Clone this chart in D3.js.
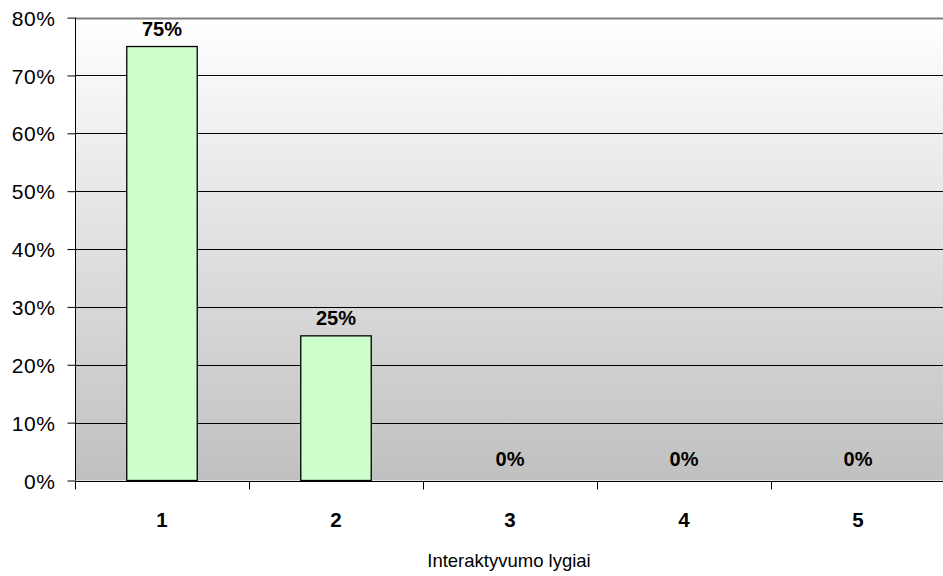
<!DOCTYPE html>
<html>
<head>
<meta charset="utf-8">
<script src="https://cdn.jsdelivr.net/npm/d3@7"></script>
<style>
  html, body { margin: 0; padding: 0; background: #fff; }
  svg { display: block; font-family: "Liberation Sans", Arial, sans-serif; }
</style>
</head>
<body>
<svg id="chart" width="943" height="576"></svg>
<script>
// Share of items per interactivity level
const categories = ["1", "2", "3", "4", "5"];
const values = [75, 25, 0, 0, 0];
const yTicks = [0, 10, 20, 30, 40, 50, 60, 70, 80];
const axisTitle = "Interaktyvumo lygiai";

const svg = d3.select("#chart");
const margin = { left: 75, top: 17.6, right: 945, bottom: 480.5 };

const x = d3.scaleBand()
  .domain(categories)
  .range([margin.left, margin.right])
  .paddingInner(0.595)
  .paddingOuter(0.2975);

const xOuter = d3.scaleBand()
  .domain(categories)
  .range([margin.left, margin.right]);

const y = d3.scaleLinear()
  .domain([0, 80])
  .range([margin.bottom, margin.top]);

// Plot background gradient: white at top to grey at bottom
const defs = svg.append("defs");
const grad = defs.append("linearGradient")
  .attr("id", "bg")
  .attr("x1", 0).attr("y1", 0).attr("x2", 0).attr("y2", 1);
grad.append("stop").attr("offset", "0%").attr("stop-color", "#ffffff");
grad.append("stop").attr("offset", "100%").attr("stop-color", "#c0c0c0");

svg.append("rect")
  .attr("x", margin.left)
  .attr("y", y(80))
  .attr("width", margin.right - margin.left)
  .attr("height", y(0) - y(80))
  .attr("fill", "url(#bg)");

// Horizontal gridlines
svg.append("g")
  .selectAll("line")
  .data(yTicks.filter(d => d > 0))
  .join("line")
  .attr("x1", margin.left)
  .attr("x2", margin.right)
  .attr("y1", d => Math.round(y(d)) + 0.5)
  .attr("y2", d => Math.round(y(d)) + 0.5)
  .attr("stroke", d => d === 80 ? "#808080" : "#000")
  .attr("stroke-width", d => d === 80 ? 2 : 1);

// Bars
svg.append("g")
  .selectAll("rect")
  .data(values)
  .join("rect")
  .attr("x", (d, i) => x(categories[i]))
  .attr("y", d => y(d))
  .attr("width", x.bandwidth())
  .attr("height", d => y(0) - y(d))
  .attr("fill", "#ccffcc")
  .attr("stroke", "#000")
  .attr("stroke-width", 1.3);

// Value labels
svg.append("g")
  .selectAll("text")
  .data(values)
  .join("text")
  .attr("x", (d, i) => x(categories[i]) + x.bandwidth() / 2)
  .attr("y", d => Math.min(y(d) - 10.5, y(0) - 15))
  .attr("text-anchor", "middle")
  .attr("font-size", 20)
  .attr("font-weight", "bold")
  .attr("fill", "#000")
  .text(d => d + "%");

// Y axis
const yAxis = svg.append("g")
  .attr("transform", `translate(${margin.left + 0.5},0)`)
  .call(d3.axisLeft(y).tickValues(yTicks).tickSize(8).tickPadding(12).tickFormat(d => d + "%"));
yAxis.select(".domain").attr("stroke", "#000").attr("d", `M0,${y(80)}V${y(0)}`);
yAxis.selectAll(".tick line").attr("stroke", "#000");
yAxis.selectAll(".tick text")
  .attr("font-size", 21)
  .attr("letter-spacing", 0.6)
  .attr("dy", "0.36em")
  .attr("font-family", "Liberation Sans, Arial, sans-serif")
  .attr("fill", "#000");

// X axis with tick marks at category boundaries
const xAxisG = svg.append("g")
  .attr("transform", `translate(0,${Math.round(y(0)) + 0.5})`);
xAxisG.append("line")
  .attr("x1", margin.left).attr("x2", margin.right)
  .attr("stroke", "#000");
const boundaries = categories.map(c => xOuter(c)).concat([margin.right]);
xAxisG.selectAll("line.tick")
  .data(boundaries)
  .join("line")
  .attr("class", "tick")
  .attr("x1", d => Math.round(d) + 0.5)
  .attr("x2", d => Math.round(d) + 0.5)
  .attr("y1", 0).attr("y2", 8)
  .attr("stroke", "#000");
xAxisG.selectAll("text")
  .data(categories)
  .join("text")
  .attr("x", d => x(d) + x.bandwidth() / 2)
  .attr("y", 45.5)
  .attr("text-anchor", "middle")
  .attr("font-size", 20.5)
  .attr("font-weight", "bold")
  .attr("fill", "#000")
  .text(d => d);

// Axis title
svg.append("text")
  .attr("x", 509)
  .attr("y", 567)
  .attr("text-anchor", "middle")
  .attr("font-size", 18.5)
  .attr("fill", "#000")
  .text(axisTitle);
</script>
</body>
</html>
